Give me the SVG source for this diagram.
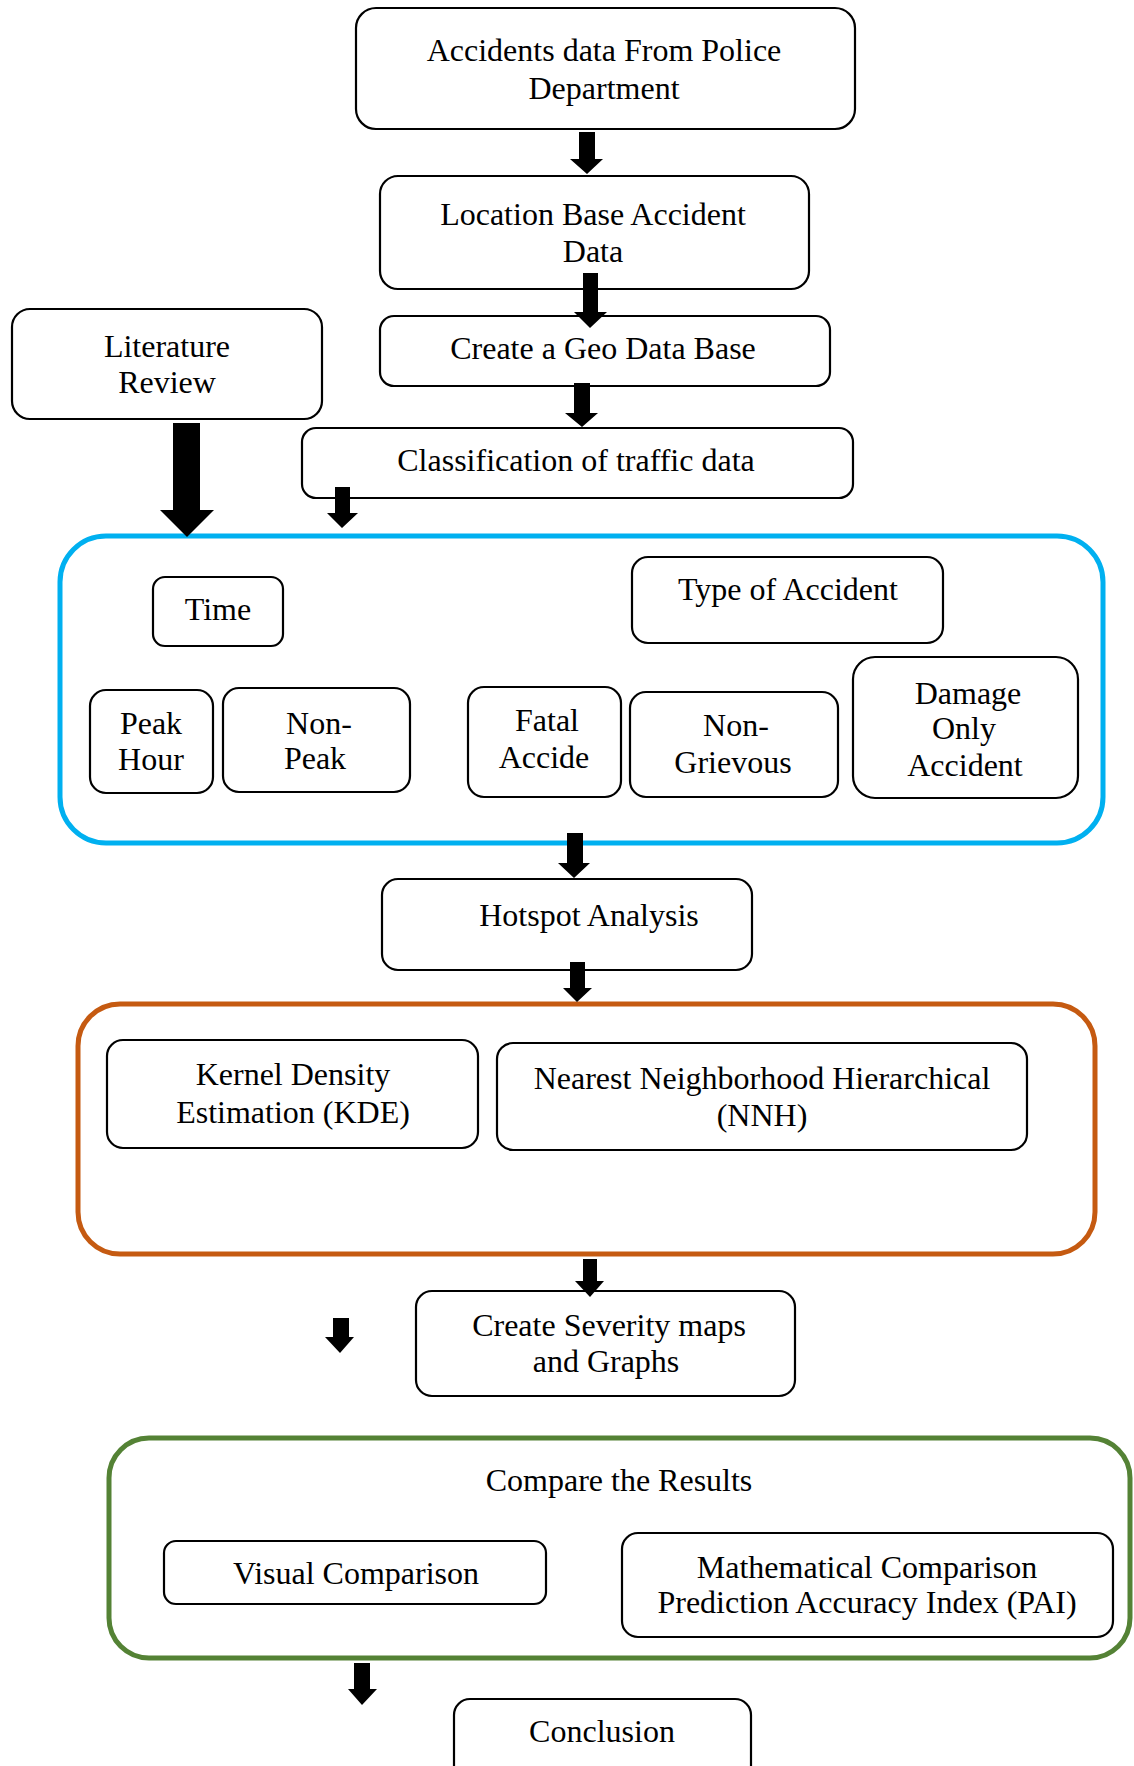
<svg xmlns="http://www.w3.org/2000/svg" width="1134" height="1766" viewBox="0 0 1134 1766">
  <style>
    .box { fill: #ffffff; stroke: #000000; stroke-width: 2.2; }
    .grp { fill: none; stroke-width: 5; }
    .blue { stroke: #00B0F0; }
    .orange { stroke: #C55A11; }
    .green { stroke: #548235; }
    .arrow { fill: #000000; stroke: none; }
    text { font-family: "Liberation Serif", "Times New Roman", serif; font-size: 32px; fill: #000000; text-anchor: middle; }
  </style>
  <rect width="1134" height="1766" fill="#ffffff"/>

  <!-- group containers -->
  <g id="group-classification">
    <rect class="grp blue" x="60" y="536" width="1043" height="307" rx="46"/>
  </g>
  <g id="group-methods">
    <rect class="grp orange" x="78" y="1004" width="1017" height="250" rx="42"/>
  </g>
  <g id="group-compare">
    <rect class="grp green" x="109" y="1438" width="1021" height="220" rx="40"/>
    <text x="619" y="1491">Compare the Results</text>
  </g>

  <g id="police-data">
    <rect class="box" x="356" y="8" width="499" height="121" rx="20"/>
    <text x="604" y="61">Accidents data From Police</text>
    <text x="604" y="99">Department</text>
  </g>
  <g id="location-data">
    <rect class="box" x="380" y="176" width="429" height="113" rx="18"/>
    <text x="593" y="225">Location Base Accident</text>
    <text x="593" y="262">Data</text>
  </g>
  <g id="geo-database">
    <rect class="box" x="380" y="316" width="450" height="70" rx="14"/>
    <text x="603" y="359">Create a Geo Data Base</text>
  </g>
  <g id="classification">
    <rect class="box" x="302" y="428" width="551" height="70" rx="14"/>
    <text x="576" y="471">Classification of traffic data</text>
  </g>
  <g id="literature-review">
    <rect class="box" x="12" y="309" width="310" height="110" rx="18"/>
    <text x="167" y="357">Literature</text>
    <text x="167" y="393">Review</text>
  </g>

  <g id="time">
    <rect class="box" x="153" y="577" width="130" height="69" rx="12"/>
    <text x="218" y="620">Time</text>
  </g>
  <g id="type-of-accident">
    <rect class="box" x="632" y="557" width="311" height="86" rx="16"/>
    <text x="788" y="600">Type of Accident</text>
  </g>
  <g id="peak-hour">
    <rect class="box" x="90" y="690" width="123" height="103" rx="16"/>
    <text x="151" y="734">Peak</text>
    <text x="151" y="770">Hour</text>
  </g>
  <g id="non-peak">
    <rect class="box" x="223" y="688" width="187" height="104" rx="16"/>
    <text x="319" y="734">Non-</text>
    <text x="315" y="769">Peak</text>
  </g>
  <g id="fatal">
    <rect class="box" x="468" y="687" width="153" height="110" rx="16"/>
    <text x="547" y="731">Fatal</text>
    <text x="544" y="768">Accide</text>
  </g>
  <g id="non-grievous">
    <rect class="box" x="630" y="692" width="208" height="105" rx="16"/>
    <text x="736" y="736">Non-</text>
    <text x="733" y="773">Grievous</text>
  </g>
  <g id="damage-only">
    <rect class="box" x="853" y="657" width="225" height="141" rx="22"/>
    <text x="968" y="704">Damage</text>
    <text x="964" y="739">Only</text>
    <text x="965" y="776">Accident</text>
  </g>

  <g id="hotspot-analysis">
    <rect class="box" x="382" y="879" width="370" height="91" rx="16"/>
    <text x="589" y="926">Hotspot Analysis</text>
  </g>

  <g id="kde">
    <rect class="box" x="107" y="1040" width="371" height="108" rx="16"/>
    <text x="293" y="1085">Kernel Density</text>
    <text x="293" y="1123">Estimation (KDE)</text>
  </g>
  <g id="nnh">
    <rect class="box" x="497" y="1043" width="530" height="107" rx="16"/>
    <text x="762" y="1089">Nearest Neighborhood Hierarchical</text>
    <text x="762" y="1126">(NNH)</text>
  </g>

  <g id="severity-maps">
    <rect class="box" x="416" y="1291" width="379" height="105" rx="16"/>
    <text x="609" y="1336">Create Severity maps</text>
    <text x="606" y="1372">and Graphs</text>
  </g>

  <g id="visual-comparison">
    <rect class="box" x="164" y="1541" width="382" height="63" rx="12"/>
    <text x="356" y="1584">Visual Comparison</text>
  </g>
  <g id="mathematical-comparison">
    <rect class="box" x="622" y="1533" width="491" height="104" rx="16"/>
    <text x="867" y="1578">Mathematical Comparison</text>
    <text x="867" y="1613">Prediction Accuracy Index (PAI)</text>
  </g>

  <g id="conclusion">
    <rect class="box" x="454" y="1699" width="297" height="90" rx="16"/>
    <text x="602" y="1742">Conclusion</text>
  </g>

  <!-- connectors: block arrows, drawn over the boxes they touch -->
  <g id="connectors">
    <polygon class="arrow" points="579,132 595,132 595,159 603,159 587,174 570,159 579,159"/>
    <polygon class="arrow" points="583,273 598,273 598,312 607,312 590,328 574,312 583,312"/>
    <polygon class="arrow" points="574,383 590,383 590,413 598,413 582,427 565,413 574,413"/>
    <polygon class="arrow" points="173,423 200,423 200,510 214,510 187,537 160,510 173,510"/>
    <polygon class="arrow" points="335,487 350,487 350,513 358,513 342,528 327,513 335,513"/>
    <polygon class="arrow" points="567,833 583,833 583,863 590,863 574,878 558,863 567,863"/>
    <polygon class="arrow" points="570,962 585,962 585,988 592,988 577,1002 563,988 570,988"/>
    <polygon class="arrow" points="583,1259 597,1259 597,1281 604,1281 590,1297 575,1281 583,1281"/>
    <polygon class="arrow" points="333,1318 349,1318 349,1337 354,1337 340,1353 325,1337 333,1337"/>
    <polygon class="arrow" points="354,1663 370,1663 370,1689 377,1689 362,1705 348,1689 354,1689"/>
  </g>
</svg>
